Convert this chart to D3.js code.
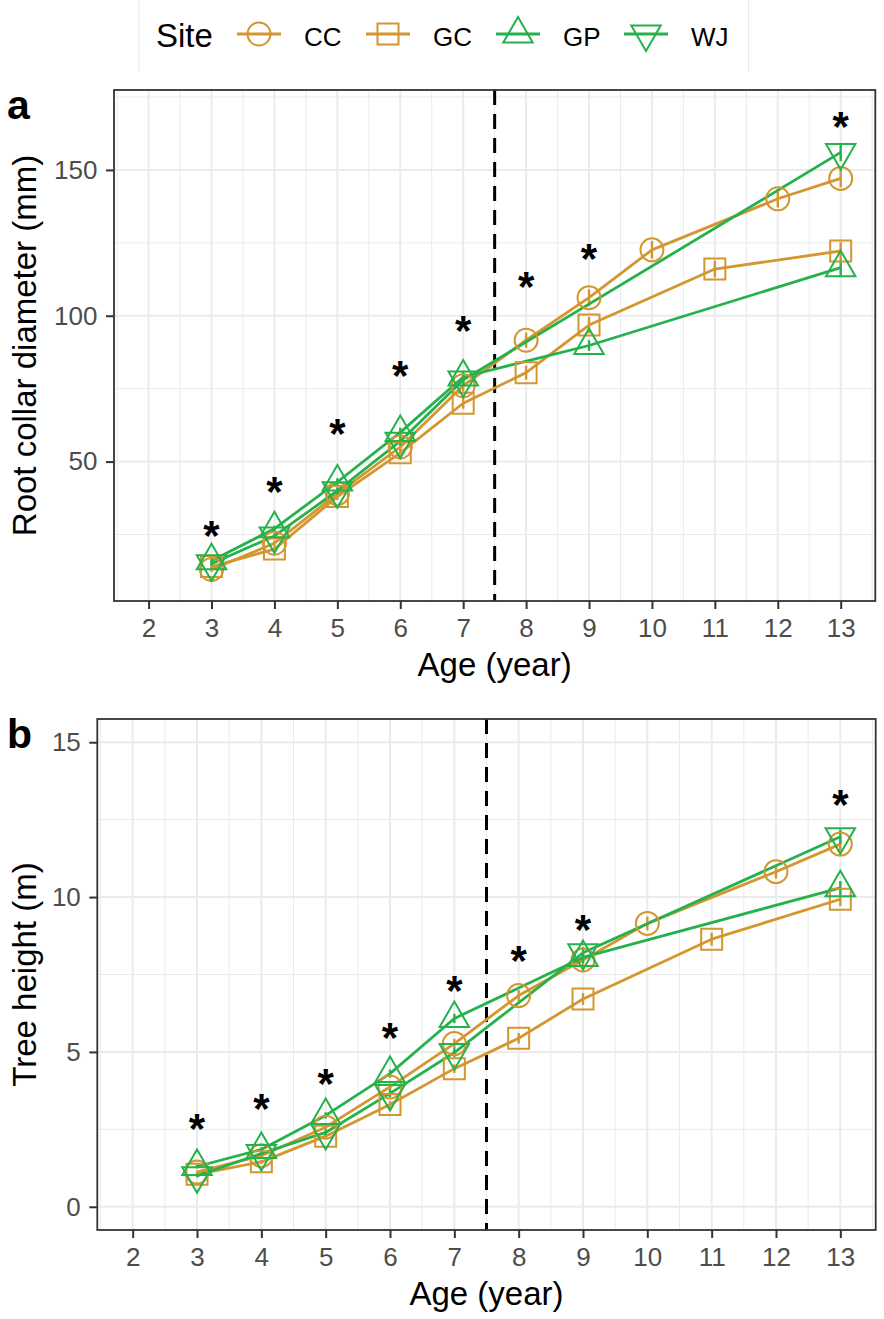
<!DOCTYPE html>
<html><head><meta charset="utf-8">
<script src="https://cdn.jsdelivr.net/npm/d3@7"></script>
<style>
body{margin:0;background:#fff}
svg{display:block}
text{font-family:"Liberation Sans",Arial,Helvetica,sans-serif}
</style>
</head><body>
<svg id="chart" width="884" height="1319"></svg>
<script>
// ---------------- data ----------------
const sites = ["CC", "GC", "GP", "WJ"];
const xTicks = [2, 3, 4, 5, 6, 7, 8, 9, 10, 11, 12, 13];
const diaTicks = [50, 100, 150];
const diaMinor = [25, 75, 125, 175];
const hTicks = [0, 5, 10, 15];
const hMinor = [2.5, 7.5, 12.5];
const cutAge = 7.5;

const ageCC = [3, 4, 5, 6, 7, 8, 9, 10, 12, 13];
const ageGC = [3, 4, 5, 6, 7, 8, 9, 11, 13];
const ageGP = [3, 4, 5, 6, 7, 9, 13];
const ageWJdia = [3, 4, 5, 6, 7, 13];
const ageWJh = [3, 4, 5, 6, 7, 9, 13];

// Root collar diameter (mm)
const diaCC = [13, 22, 39, 55, 76, 91.6, 106.2, 122.6, 140.1, 147.1];
const diaGC = [14, 20, 38, 53, 70, 80.5, 96.8, 116, 122.2];
const diaGP = [16, 27, 43, 60, 79, 89.8, 116.5];
const diaWJ = [15, 24.5, 40, 57, 78, 156];
const diaSeCC = [0.8, 1.0, 1.3, 1.6, 2.0, 2.6, 2.9, 3.0, 3.0, 3.1];
const diaSeGC = [0.7, 0.9, 1.2, 1.5, 1.9, 2.4, 2.8, 2.9, 3.0];
const diaSeGP = [0.8, 1.0, 1.3, 1.6, 1.9, 1.8, 2.8];
const diaSeWJ = [0.7, 0.9, 1.2, 1.5, 1.8, 3.0];

// Tree height (m)
const hCC = [1.12, 1.65, 2.57, 3.87, 5.27, 6.82, 7.97, 9.15, 10.82, 11.71];
const hGC = [1.05, 1.45, 2.28, 3.30, 4.46, 5.44, 6.71, 8.64, 9.93];
const hGP = [1.30, 1.85, 2.95, 4.30, 6.08, 8.05, 10.30];
const hWJ = [1.00, 1.72, 2.40, 3.66, 4.98, 8.20, 11.95];
const hSeCC = [0.05, 0.07, 0.09, 0.12, 0.15, 0.18, 0.20, 0.22, 0.22, 0.23];
const hSeGC = [0.05, 0.06, 0.08, 0.11, 0.14, 0.17, 0.19, 0.21, 0.22];
const hSeGP = [0.06, 0.07, 0.10, 0.13, 0.15, 0.18, 0.22];
const hSeWJ = [0.05, 0.07, 0.09, 0.12, 0.14, 0.19, 0.23];

// significance marks
const starAge = [3, 4, 5, 6, 7, 8, 9, 13];
const starDia = [27.7, 42.8, 62.6, 82.3, 97.7, 112.8, 122.4, 167.8];
const starH = [2.8, 3.45, 4.26, 5.73, 7.25, 8.24, 9.24, 13.27];

// ---------------- styles ----------------
const ORANGE = "#D4962E", GREEN = "#25B14B";
const siteColor = {CC: ORANGE, GC: ORANGE, GP: GREEN, WJ: GREEN};
const siteShape = {CC: "circle", GC: "square", GP: "up", WJ: "down"};
const FONT = '"Liberation Sans",Arial,Helvetica,sans-serif';

const svg = d3.select("#chart");
svg.append("rect").attr("width", 884).attr("height", 1319).attr("fill", "#fff");

function shapePath(shape) {
  if (shape === "circle") { const r = 11.5; return `M${-r},0A${r},${r} 0 1,0 ${r},0A${r},${r} 0 1,0 ${-r},0Z`; }
  if (shape === "square") { const h = 10.5; return `M${-h},${-h}H${h}V${h}H${-h}Z`; }
  const r = 17, xc = r * Math.sqrt(3) / 2, yc = r / 2;
  if (shape === "up") return `M0,${-r}L${xc},${yc}L${-xc},${yc}Z`;
  return `M0,${r}L${xc},${-yc}L${-xc},${-yc}Z`;
}

function panel(cfg) {
  const g = svg.append("g");
  const x = d3.scaleLinear().domain([1.45, 13.55]).range([cfg.left, cfg.right]);
  const y = d3.scaleLinear().domain(cfg.yDomain).range([cfg.bottom, cfg.top]);

  // grid
  const grid = g.append("g");
  const xMinor = d3.range(1.5, 13.6, 1);
  grid.selectAll(".xm").data(xMinor).join("line")
    .attr("x1", d => x(d)).attr("x2", d => x(d)).attr("y1", cfg.top).attr("y2", cfg.bottom)
    .attr("stroke", "#EBEBEB").attr("stroke-width", 1);
  grid.selectAll(".ym").data(cfg.yMinor).join("line")
    .attr("x1", cfg.left).attr("x2", cfg.right).attr("y1", d => y(d)).attr("y2", d => y(d))
    .attr("stroke", "#EBEBEB").attr("stroke-width", 1);
  grid.selectAll(".xM").data(xTicks).join("line")
    .attr("x1", d => x(d)).attr("x2", d => x(d)).attr("y1", cfg.top).attr("y2", cfg.bottom)
    .attr("stroke", "#EBEBEB").attr("stroke-width", 2);
  grid.selectAll(".yM").data(cfg.yTicks).join("line")
    .attr("x1", cfg.left).attr("x2", cfg.right).attr("y1", d => y(d)).attr("y2", d => y(d))
    .attr("stroke", "#EBEBEB").attr("stroke-width", 2);

  // cut-off line
  g.append("line").attr("x1", x(cutAge)).attr("x2", x(cutAge))
    .attr("y1", cfg.top).attr("y2", cfg.bottom)
    .attr("stroke", "#000").attr("stroke-width", 3).attr("stroke-dasharray", "15,9");

  const line = d3.line().x(d => x(d.a)).y(d => y(d.v));
  cfg.series.forEach(s => {
    const pts = s.ages.map((a, i) => ({a, v: s.vals[i], e: s.se[i]}));
    g.append("path").datum(pts).attr("d", line).attr("fill", "none")
      .attr("stroke", siteColor[s.site]).attr("stroke-width", 2.8).attr("stroke-linejoin", "round");
    g.selectAll(null).data(pts).join("line")
      .attr("x1", d => x(d.a)).attr("x2", d => x(d.a))
      .attr("y1", d => y(d.v - d.e)).attr("y2", d => y(d.v + d.e))
      .attr("stroke", siteColor[s.site]).attr("stroke-width", 2.4);
    s.pts = pts;
  });
  cfg.series.forEach(s => {
    g.selectAll(null).data(s.pts).join("path")
      .attr("transform", d => `translate(${x(d.a)},${y(d.v)})`)
      .attr("d", shapePath(siteShape[s.site]))
      .attr("fill", "none").attr("stroke", siteColor[s.site]).attr("stroke-width", 2);
  });

  // stars
  g.selectAll(null).data(starAge.map((a, i) => ({a, v: cfg.stars[i]}))).join("text")
    .attr("x", d => x(d.a)).attr("y", d => y(d.v) + 23)
    .attr("text-anchor", "middle").attr("font-size", 42).attr("font-weight", "bold")
    .attr("fill", "#000").text("*");

  // border
  g.append("rect").attr("x", cfg.left).attr("y", cfg.top)
    .attr("width", cfg.right - cfg.left).attr("height", cfg.bottom - cfg.top)
    .attr("fill", "none").attr("stroke", "#333333").attr("stroke-width", 1.8);

  // axes
  const ax = g.append("g").attr("transform", `translate(0,${cfg.bottom})`)
    .call(d3.axisBottom(x).tickValues(xTicks).tickSize(8).tickPadding(9.5).tickFormat(d3.format("d")));
  const ay = g.append("g").attr("transform", `translate(${cfg.left},0)`)
    .call(d3.axisLeft(y).tickValues(cfg.yTicks).tickSize(8).tickPadding(8.5).tickFormat(d3.format("d")));
  [ax, ay].forEach(a => {
    a.select(".domain").remove();
    a.selectAll(".tick line").attr("stroke", "#333333").attr("stroke-width", 2);
    a.selectAll(".tick text").attr("fill", "#4D4D4D").attr("font-size", 26).attr("font-family", FONT);
  });

  // titles
  g.append("text").attr("x", (cfg.left + cfg.right) / 2).attr("y", cfg.bottom + 75)
    .attr("text-anchor", "middle").attr("font-size", 33).attr("fill", "#000").text("Age (year)");
  g.append("text").attr("transform", `translate(36,${(cfg.top + cfg.bottom) / 2}) rotate(-90)`)
    .attr("text-anchor", "middle").attr("font-size", 33).attr("fill", "#000").text(cfg.yTitle);
  g.append("text").attr("x", 7).attr("y", cfg.top + 29)
    .attr("font-size", 41).attr("font-weight", "bold").attr("fill", "#000").text(cfg.tag);
}

panel({
  tag: "a", left: 114, right: 875.3, top: 90, bottom: 601,
  yDomain: [2.2, 177.4], yTicks: diaTicks, yMinor: diaMinor,
  yTitle: "Root collar diameter (mm)", stars: starDia,
  series: [
    {site: "CC", ages: ageCC, vals: diaCC, se: diaSeCC},
    {site: "GC", ages: ageGC, vals: diaGC, se: diaSeGC},
    {site: "GP", ages: ageGP, vals: diaGP, se: diaSeGP},
    {site: "WJ", ages: ageWJdia, vals: diaWJ, se: diaSeWJ}
  ]
});
panel({
  tag: "b", left: 97.3, right: 875.7, top: 719, bottom: 1230,
  yDomain: [-0.75, 15.75], yTicks: hTicks, yMinor: hMinor,
  yTitle: "Tree height (m)", stars: starH,
  series: [
    {site: "CC", ages: ageCC, vals: hCC, se: hSeCC},
    {site: "GC", ages: ageGC, vals: hGC, se: hSeGC},
    {site: "GP", ages: ageGP, vals: hGP, se: hSeGP},
    {site: "WJ", ages: ageWJh, vals: hWJ, se: hSeWJ}
  ]
});

// ---------------- legend ----------------
const lg = svg.append("g");
[138.8, 748.7].forEach(xx => lg.append("line").attr("x1", xx).attr("x2", xx).attr("y1", 0).attr("y2", 72)
  .attr("stroke", "#E6E6E6").attr("stroke-width", 1));
lg.append("text").attr("x", 156).attr("y", 47).attr("font-size", 33).attr("fill", "#000").text("Site");
const keyX = [237, 366, 496, 624];
sites.forEach((s, i) => {
  const kx = keyX[i], ky = 34;
  lg.append("line").attr("x1", kx).attr("x2", kx + 44).attr("y1", ky).attr("y2", ky)
    .attr("stroke", siteColor[s]).attr("stroke-width", 2.8);
  lg.append("path").attr("transform", `translate(${kx + 22},${ky})`).attr("d", shapePath(siteShape[s]))
    .attr("fill", "none").attr("stroke", siteColor[s]).attr("stroke-width", 2);
  lg.append("text").attr("x", kx + 67).attr("y", 46).attr("font-size", 26).attr("fill", "#000").text(s);
});
</script>
</body></html>
